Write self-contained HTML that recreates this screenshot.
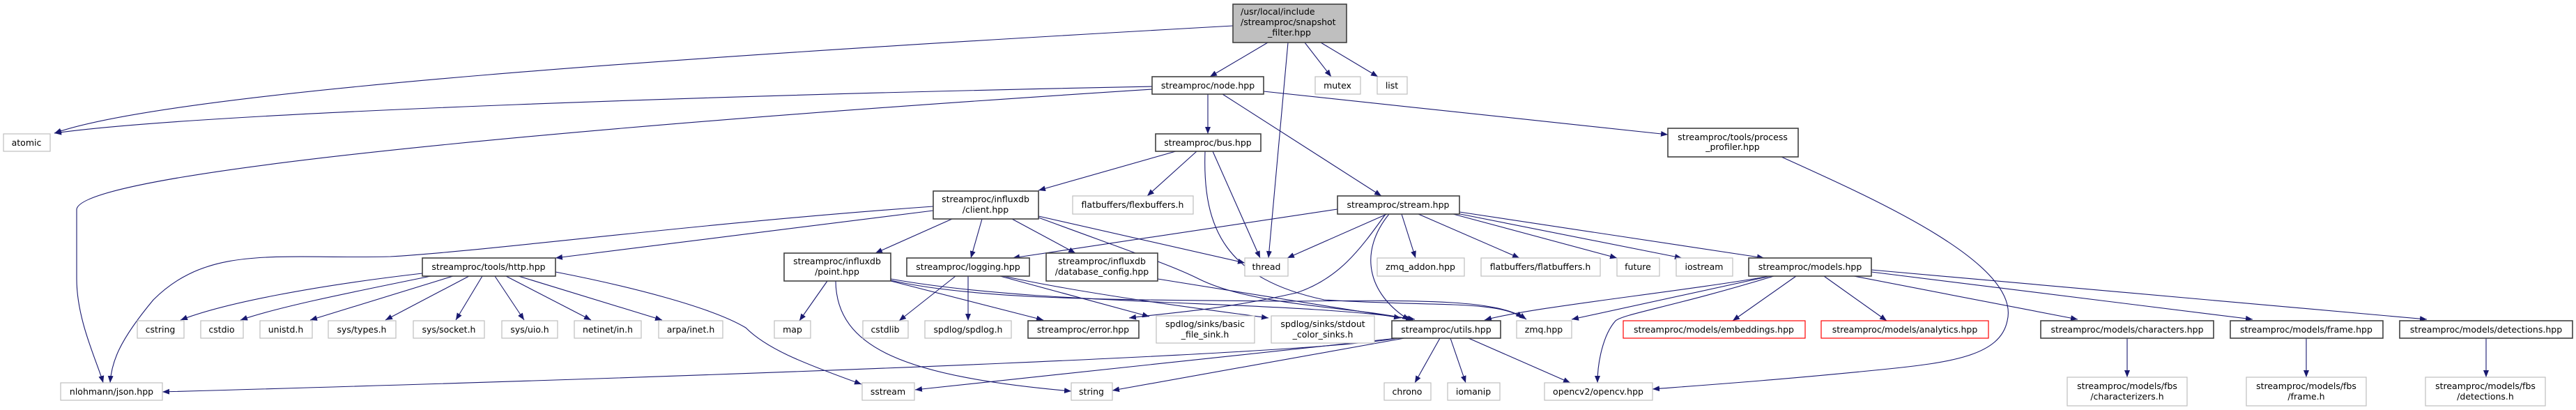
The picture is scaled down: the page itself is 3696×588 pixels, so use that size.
<!DOCTYPE html>
<html><head><meta charset="utf-8"><style>
html,body{margin:0;padding:0;background:#fff;width:3696px;height:588px;overflow:hidden}
svg{display:block}
text{font-family:"DejaVu Sans","Liberation Sans",sans-serif;font-size:12.5px;fill:#000;text-anchor:middle}
.g{fill:#fff;stroke:#bfbfbf;stroke-width:1.2}
.b{fill:#fff;stroke:#404040;stroke-width:1.6}
.r{fill:#fff;stroke:#ff0000;stroke-width:1.2}
.e{fill:none;stroke:#191970;stroke-width:1.1;marker-end:url(#a)}
</style></head><body>
<svg width="3696" height="588" viewBox="0 0 3696 588" xmlns="http://www.w3.org/2000/svg">
<defs><marker id="a" viewBox="0 0 10 8" refX="10" refY="4" markerWidth="10" markerHeight="8" markerUnits="userSpaceOnUse" orient="auto"><path d="M0,0 L10,4 L0,8 z" fill="#191970"/></marker></defs>

<!-- edges -->
<path class="e" d="M1769,37 C1000,80 250,130 78,191"/>
<path class="e" d="M1653,124 C1100,135 300,160 78,191"/>
<path class="e" d="M1653,128 C1000,170 120,240 110,300 L110,400 C110,460 140,520 148,549"/>
<path class="e" d="M1819,61 L1736,110"/>
<path class="e" d="M1848,61 L1820,370"/>
<path class="e" d="M1872,61 L1910,110"/>
<path class="e" d="M1895,61 L1977,110"/>
<path class="e" d="M1733,135 L1733,192"/>
<path class="e" d="M1754,135 L1982,281"/>
<path class="e" d="M1813,131 L2393,193"/>
<path class="e" d="M1687,217 L1490,273"/>
<path class="e" d="M1717,217 L1646,281"/>
<path class="e" d="M1740,217 L1808,370"/>
<path class="e" d="M1729,217 C1725,330 1760,400 1900,430 C2050,440 2150,430 2185,456"/>
<path class="e" d="M1339,302 L797,370"/>
<path class="e" d="M1339,296 C1000,320 700,360 560,368 C400,372 300,350 220,430 C170,490 160,520 158,549"/>
<path class="e" d="M1366,314 L1256,363"/>
<path class="e" d="M1409,314 L1393,370"/>
<path class="e" d="M1452,314 L1543,363"/>
<path class="e" d="M1490,310 L1786,377"/>
<path class="e" d="M1490,312 C1620,360 1680,380 1720,400 C1800,440 1950,440 2027,459"/>
<path class="e" d="M1919,300 L1453,370"/>
<path class="e" d="M1990,307 L1847,370"/>
<path class="e" d="M2011,307 L2031,370"/>
<path class="e" d="M2035,307 L2180,370"/>
<path class="e" d="M2085,307 L2320,370"/>
<path class="e" d="M2090,306 L2413,370"/>
<path class="e" d="M2094,304 L2531,370"/>
<path class="e" d="M1993,307 C1950,360 1960,420 2022,459"/>
<path class="e" d="M1988,307 C1950,360 1920,400 1860,420 C1750,445 1680,448 1620,456"/>
<path class="e" d="M606,392 C450,410 320,435 259,459"/>
<path class="e" d="M618,396 C500,420 400,440 345,459"/>
<path class="e" d="M650,396 L445,459"/>
<path class="e" d="M673,396 L553,459"/>
<path class="e" d="M692,396 L654,459"/>
<path class="e" d="M710,396 L752,459"/>
<path class="e" d="M726,396 L848,459"/>
<path class="e" d="M744,396 L950,459"/>
<path class="e" d="M797,390 C900,410 1020,440 1070,470 C1100,500 1150,520 1236,551"/>
<path class="e" d="M1187,403 L1147,460"/>
<path class="e" d="M1199,403 C1200,500 1300,540 1537,561"/>
<path class="e" d="M1278,403 L1497,459"/>
<path class="e" d="M1278,402 C1400,430 1600,430 1850,432 C2050,430 2150,430 2190,458"/>
<path class="e" d="M1278,400 C1500,440 1850,430 2030,458"/>
<path class="e" d="M1371,396 L1290,460"/>
<path class="e" d="M1389,396 L1389,460"/>
<path class="e" d="M1435,396 L1649,454"/>
<path class="e" d="M1440,396 C1550,420 1700,440 1820,456"/>
<path class="e" d="M1661,400 L2010,456"/>
<path class="e" d="M2540,396 C2400,420 2200,440 2130,459"/>
<path class="e" d="M2540,396 L2255,458"/>
<path class="e" d="M2545,396 C2400,440 2330,450 2318,460 C2300,480 2292,520 2292,549"/>
<path class="e" d="M2577,396 L2486,460"/>
<path class="e" d="M2617,396 L2707,460"/>
<path class="e" d="M2660,396 L2981,458"/>
<path class="e" d="M2685,390 L3232,458"/>
<path class="e" d="M2685,387 L3482,458"/>
<path class="e" d="M2005,485 C1900,505 1200,535 233,562"/>
<path class="e" d="M2005,485 L1313,559"/>
<path class="e" d="M2015,485 L1596,560"/>
<path class="e" d="M2066,485 L2030,549"/>
<path class="e" d="M2081,485 L2103,549"/>
<path class="e" d="M2107,485 L2253,549"/>
<path class="e" d="M2556,225 C2700,290 2900,380 2880,460 C2870,510 2800,520 2700,530 C2550,545 2450,552 2371,558"/>
<path class="e" d="M3052,485 L3052,541"/>
<path class="e" d="M3309,485 L3309,541"/>
<path class="e" d="M3567,485 L3567,541"/>

<!-- nodes -->
<rect x="1769" y="6" width="163" height="55" fill="#bfbfbf" stroke="#404040" stroke-width="1.6"/>
<text x="1850" y="21" style="text-anchor:start" transform="translate(-70,0)">/usr/local/include</text>
<text x="1780" y="36" style="text-anchor:start">/streamproc/snapshot</text>
<text x="1850" y="51">_filter.hpp</text>

<rect class="b" x="1653" y="110" width="160" height="25"/><text x="1733" y="127">streamproc/node.hpp</text>
<rect class="g" x="1887" y="110" width="65" height="25"/><text x="1919" y="127">mutex</text>
<rect class="g" x="1976" y="110" width="43" height="25"/><text x="1997" y="127">list</text>
<rect class="g" x="5" y="192" width="67" height="25"/><text x="38" y="209">atomic</text>
<rect class="b" x="1658" y="192" width="151" height="25"/><text x="1733" y="209">streamproc/bus.hpp</text>
<rect class="b" x="2393" y="184" width="187" height="41"/><text x="2486" y="201">streamproc/tools/process</text><text x="2486" y="215">_profiler.hpp</text>
<rect class="b" x="1339" y="274" width="151" height="40"/><text x="1414" y="290">streamproc/influxdb</text><text x="1414" y="305">/client.hpp</text>
<rect class="g" x="1539" y="281" width="173" height="26"/><text x="1625" y="298">flatbuffers/flexbuffers.h</text>
<rect class="b" x="1919" y="281" width="175" height="26"/><text x="2006" y="298">streamproc/stream.hpp</text>

<rect class="b" x="606" y="370" width="191" height="26"/><text x="701" y="387">streamproc/tools/http.hpp</text>
<rect class="b" x="1125" y="363" width="153" height="40"/><text x="1201" y="379">streamproc/influxdb</text><text x="1201" y="394">/point.hpp</text>
<rect class="b" x="1301" y="370" width="176" height="26"/><text x="1389" y="387">streamproc/logging.hpp</text>
<rect class="b" x="1501" y="363" width="160" height="40"/><text x="1581" y="379">streamproc/influxdb</text><text x="1581" y="394">/database_config.hpp</text>
<rect class="g" x="1786" y="370" width="62" height="26"/><text x="1817" y="387">thread</text>
<rect class="g" x="1976" y="370" width="125" height="26"/><text x="2038" y="387">zmq_addon.hpp</text>
<rect class="g" x="2125" y="370" width="171" height="26"/><text x="2210" y="387">flatbuffers/flatbuffers.h</text>
<rect class="g" x="2320" y="370" width="61" height="26"/><text x="2350" y="387">future</text>
<rect class="g" x="2405" y="370" width="81" height="26"/><text x="2445" y="387">iostream</text>
<rect class="b" x="2509" y="370" width="176" height="26"/><text x="2597" y="387">streamproc/models.hpp</text>

<rect class="g" x="197" y="460" width="67" height="25"/><text x="230" y="477">cstring</text>
<rect class="g" x="288" y="460" width="61" height="25"/><text x="318" y="477">cstdio</text>
<rect class="g" x="373" y="460" width="75" height="25"/><text x="410" y="477">unistd.h</text>
<rect class="g" x="471" y="460" width="97" height="25"/><text x="519" y="477">sys/types.h</text>
<rect class="g" x="593" y="460" width="102" height="25"/><text x="644" y="477">sys/socket.h</text>
<rect class="g" x="720" y="460" width="80" height="25"/><text x="760" y="477">sys/uio.h</text>
<rect class="g" x="824" y="460" width="96" height="25"/><text x="872" y="477">netinet/in.h</text>
<rect class="g" x="945" y="460" width="92" height="25"/><text x="991" y="477">arpa/inet.h</text>
<rect class="g" x="1111" y="460" width="52" height="25"/><text x="1137" y="477">map</text>
<rect class="g" x="1238" y="460" width="65" height="25"/><text x="1270" y="477">cstdlib</text>
<rect class="g" x="1327" y="460" width="124" height="25"/><text x="1389" y="477">spdlog/spdlog.h</text>
<rect class="b" x="1475" y="460" width="159" height="25"/><text x="1554" y="477">streamproc/error.hpp</text>
<rect class="g" x="1659" y="453" width="141" height="39"/><text x="1729" y="469">spdlog/sinks/basic</text><text x="1729" y="484">_file_sink.h</text>
<rect class="g" x="1824" y="453" width="148" height="39"/><text x="1898" y="469">spdlog/sinks/stdout</text><text x="1898" y="484">_color_sinks.h</text>
<rect class="b" x="1997" y="460" width="156" height="25"/><text x="2075" y="477">streamproc/utils.hpp</text>
<rect class="g" x="2176" y="460" width="79" height="25"/><text x="2215" y="477">zmq.hpp</text>
<rect class="r" x="2329" y="460" width="261" height="25"/><text x="2459" y="477">streamproc/models/embeddings.hpp</text>
<rect class="r" x="2613" y="460" width="240" height="25"/><text x="2733" y="477">streamproc/models/analytics.hpp</text>
<rect class="b" x="2928" y="460" width="248" height="25"/><text x="3052" y="477">streamproc/models/characters.hpp</text>
<rect class="b" x="3200" y="460" width="219" height="25"/><text x="3309" y="477">streamproc/models/frame.hpp</text>
<rect class="b" x="3443" y="460" width="248" height="25"/><text x="3567" y="477">streamproc/models/detections.hpp</text>

<rect class="g" x="87" y="549" width="146" height="25"/><text x="160" y="566">nlohmann/json.hpp</text>
<rect class="g" x="1237" y="549" width="75" height="25"/><text x="1274" y="566">sstream</text>
<rect class="g" x="1537" y="549" width="59" height="25"/><text x="1566" y="566">string</text>
<rect class="g" x="1986" y="549" width="67" height="25"/><text x="2019" y="566">chrono</text>
<rect class="g" x="2077" y="549" width="75" height="25"/><text x="2114" y="566">iomanip</text>
<rect class="g" x="2216" y="549" width="155" height="25"/><text x="2293" y="566">opencv2/opencv.hpp</text>
<rect class="g" x="2966" y="541" width="172" height="41"/><text x="3052" y="558">streamproc/models/fbs</text><text x="3052" y="573">/characterizers.h</text>
<rect class="g" x="3223" y="541" width="172" height="41"/><text x="3309" y="558">streamproc/models/fbs</text><text x="3309" y="573">/frame.h</text>
<rect class="g" x="3480" y="541" width="172" height="41"/><text x="3566" y="558">streamproc/models/fbs</text><text x="3566" y="573">/detections.h</text>
</svg>
</body></html>
